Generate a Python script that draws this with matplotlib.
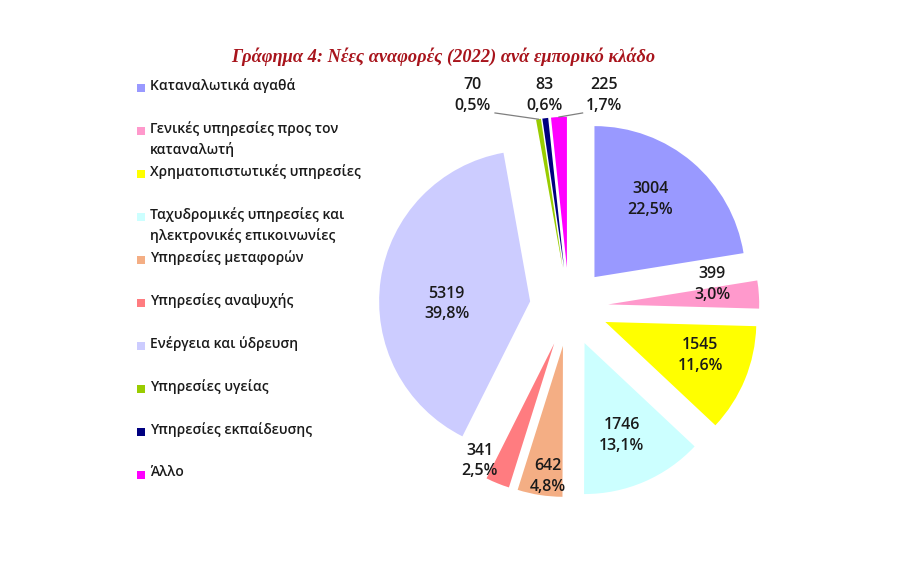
import matplotlib
matplotlib.use('Agg')
import matplotlib.pyplot as plt
import numpy as np
from matplotlib.patches import Rectangle

plt.rcParams['font.family'] = ['Open Sans', 'DejaVu Sans']

# data
categories = ['Καταναλωτικά αγαθά',
              'Γενικές υπηρεσίες προς τον\nκαταναλωτή',
              'Χρηματοπιστωτικές υπηρεσίες',
              'Ταχυδρομικές υπηρεσίες και\nηλεκτρονικές επικοινωνίες',
              'Υπηρεσίες μεταφορών',
              'Υπηρεσίες αναψυχής',
              'Ενέργεια και ύδρευση',
              'Υπηρεσίες υγείας',
              'Υπηρεσίες εκπαίδευσης',
              'Άλλο']
counts = [3004, 399, 1545, 1746, 642, 341, 5319, 70, 83, 225]
pct_labels = ['22,5%', '3,0%', '11,6%', '13,1%', '4,8%', '2,5%', '39,8%', '0,5%', '0,6%', '1,7%']

colors = ['#9999FF', '#FF99CC', '#FFFF00', '#CCFFFF', '#F4AE84',
          '#FF7C80', '#CCCCFF', '#99CC00', '#000080', '#FF00FF']

# label placement, in pie radius units from pie centre
label_pos = [(0.54, 0.71), (0.95, 0.15), (0.87, -0.32), (0.35, -0.85), (-0.14, -1.12),
             (-0.59, -1.02), (-0.81, 0.02), (-0.64, 1.40), (-0.16, 1.40), (0.23, 1.40)]
leader_from = {7: (-0.49, 1.285), 9: (0.09, 1.285)}

W, H = 900, 580
fig = plt.figure(figsize=(W / 100, H / 100), dpi=100)
fig.patch.set_facecolor('white')

# pie axes: centre at (569, 307) px, radius 151 px
cx, cy, R, half = 569, 307, 151, 1.6
size = 2 * half * R
pax = fig.add_axes([(cx - size / 2) / W, (H - cy - size / 2) / H, size / W, size / H])

wedges, _ = pax.pie(counts, colors=colors, startangle=90, counterclock=False,
                    explode=[0.26] * len(counts), radius=1.0,
                    wedgeprops=dict(linewidth=0))
pax.set_xlim(-half, half)
pax.set_ylim(-half, half)
pax.set_aspect('equal')
pax.axis('off')

for i, (n, p) in enumerate(zip(counts, pct_labels)):
    x, y = label_pos[i]
    pax.text(x, y, f'{n}\n{p}', ha='center', va='center', fontsize=11.5,
             fontweight='semibold', color='#1A1A1A', linespacing=1.4)

for i, (lx, ly) in leader_from.items():
    w = wedges[i]
    mid = np.deg2rad((w.theta1 + w.theta2) / 2)
    ex, ey = w.center[0] + np.cos(mid), w.center[1] + np.sin(mid)
    pax.plot([lx, ex], [ly, ey], color='#7F7F7F', lw=0.9)

# overlay for title and legend in pixel coords
ax = fig.add_axes([0, 0, 1, 1])
ax.set_xlim(0, W)
ax.set_ylim(H, 0)
ax.axis('off')

ax.text(443, 57, 'Γράφημα 4: Νέες αναφορές (2022) ανά εμπορικό κλάδο',
        ha='center', va='center', fontsize=13.2, fontweight='bold', style='italic',
        color='#A8141C', family=['Liberation Serif', 'DejaVu Serif'])

for i, (name, c) in enumerate(zip(categories, colors)):
    y = 88 + i * 43
    ax.add_patch(Rectangle((137, y - 4), 8, 8, facecolor=c, edgecolor='none'))
    ax.text(150, y - 10, name, ha='left', va='top', fontsize=10,
            fontweight='semibold', color='#1A1A1A', linespacing=1.55)

fig.savefig('out.png', dpi=100, facecolor='white')
plt.close()
